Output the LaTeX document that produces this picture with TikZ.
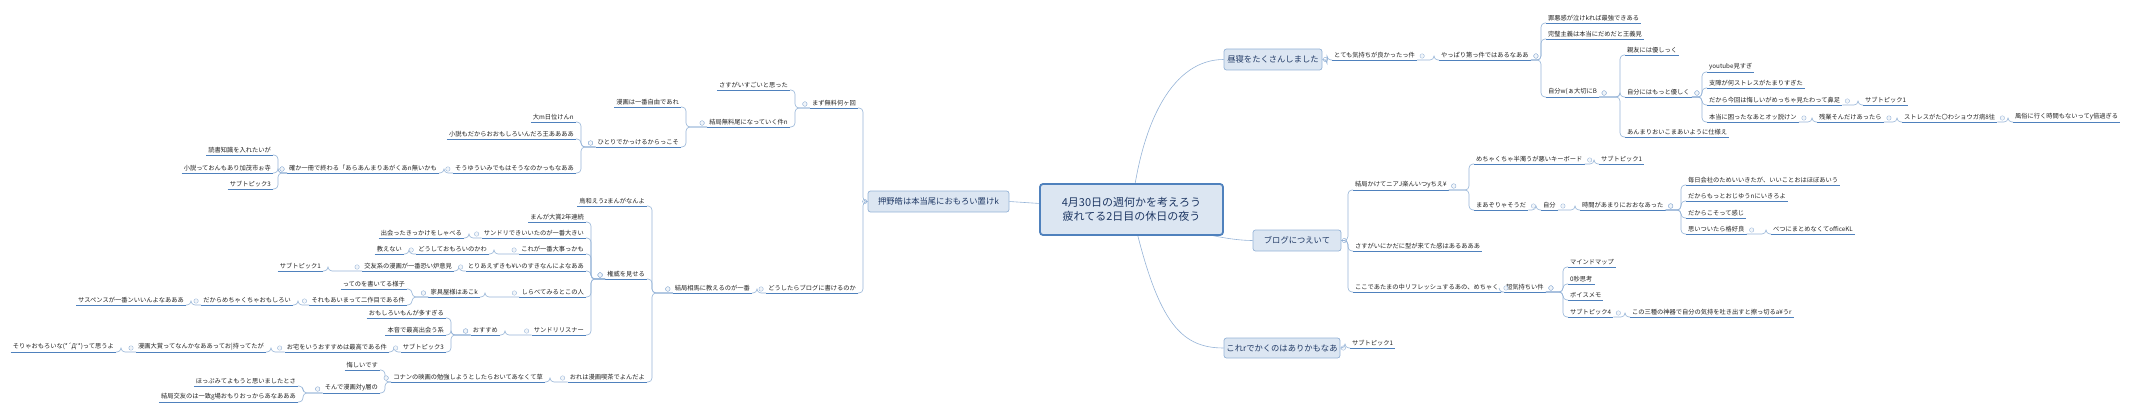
\documentclass[tikz,border=0pt]{standalone}
\usepackage{fontspec}
\setmainfont{Noto Sans CJK JP}
\usetikzlibrary{backgrounds}
\definecolor{ulc}{HTML}{4F81BD}
\definecolor{cnc}{HTML}{95B3D7}
\definecolor{bxf}{HTML}{DCE6F2}
\definecolor{bxt}{HTML}{1F3864}
\definecolor{txc}{HTML}{222222}
\newcommand\ftsm{\fontsize{6.25}{7}\selectfont}
\newcommand\conR[2]{\draw[conn] (#2.south west) -- ++(-5,0) |- (#1.south east);\colR{#1}}
\newcommand\conL[2]{\draw[conn] (#2.south east) -- ++(5,0) |- (#1.south west);\colL{#1}}
\newcommand\conRB[2]{\draw[conn] (#2.south west) -- ++(-5,0) |- (#1.east);}
\newcommand\conLB[2]{\draw[conn] (#2.south east) -- ++(5,0) |- (#1.west);}
\newcommand\colR[1]{\draw[colst] ([shift={(5,-4)}]#1.south east) circle (2.2) ++(-1.2,0) -- ++(2.4,0);}
\newcommand\colL[1]{\draw[colst] ([shift={(-5,-4)}]#1.south west) circle (2.2) ++(-1.2,0) -- ++(2.4,0);}
\tikzset{
  tp/.style={font=\ftsm, text=txc, inner xsep=2pt, inner ysep=1.6pt, anchor=south west,
    append after command={(\tikzlastnode.south west) edge[ul] (\tikzlastnode.south east)}},
  lt/.style={tp, anchor=south east},
  ul/.style={draw=ulc, line width=0.9pt},
  conn/.style={draw=cnc, line width=0.6pt, rounded corners=4pt},
  colst/.style={draw=cnc, line width=0.4pt, fill=white},
  mbox/.style={draw=cnc, fill=bxf, rounded corners=2.5pt, line width=0.7pt, text=bxt,
    font=\fontsize{8.3}{9}\selectfont, inner sep=0pt, anchor=center}
}
\begin{document}
\begin{tikzpicture}[x=1pt,y=-1pt]
\useasboundingbox (0,0) rectangle (2139,412);
% central
\node[draw=ulc, line width=1.8pt, fill=bxf, rounded corners=3pt, text=bxt, align=center,
  minimum width=183, minimum height=51, inner sep=0pt, font=\fontsize{11}{14}\selectfont]
  (C) at (1131.5,209.5) {4月30日の週何かを考えろう\\疲れてる2日目の休日の夜う};
\node[mbox, minimum width=141, minimum height=21] (oshi) at (938.5,201.5) {押野皓は本当尾におもろい置けk};
\node[mbox, minimum width=98, minimum height=21] (hiru) at (1273,59.5) {昼寝をたくさんしました};
\node[mbox, minimum width=88, minimum height=21] (blog) at (1297,240.5) {ブログにつえいて};
\node[mbox, minimum width=116, minimum height=20] (kore) at (1282,348) {これrでかくのはありかもなあ};
\begin{scope}[on background layer]
\draw[conn] (C.center) -- (oshi.east);
\draw[conn] (C.center) .. controls +(10,-90) and +(-50,0) .. (hiru.west);
\draw[conn] (C.center) .. controls +(60,25) and +(-20,0) .. (blog.west);
\draw[conn] (C.center) .. controls +(25,110) and +(-45,0) .. (kore.west);
\end{scope}
\draw[colst] ([shift={(-3,0)}]oshi.west) circle (2.2) ++(-1.2,0) -- ++(2.4,0);
\draw[colst] ([shift={(3,0)}]hiru.east) circle (2.2) ++(-1.2,0) -- ++(2.4,0);
\draw[colst] ([shift={(3,0)}]blog.east) circle (2.2) ++(-1.2,0) -- ++(2.4,0);
\draw[colst] ([shift={(3,0)}]kore.east) circle (2.2) ++(-1.2,0) -- ++(2.4,0);

% ===== left side =====
\node[lt] (m1) at (858,108) {まず無料何ヶ回};
\node[lt] (m1a) at (790,90) {さすがいすごいと思った};
\node[lt] (m1b) at (790,127) {結局無料尾になっていく件n};
\node[lt] (m1b1) at (681,107) {漫画は一番自由であれ};
\node[lt] (m1b2) at (681,147) {ひとりでかっけるからっこそ};
\node[lt] (m1c1) at (576,122) {大m日位けんn};
\node[lt] (m1c2) at (576,139) {小説もだからおおもしろいんだろ王ああああ};
\node[lt] (m1c3) at (576,173) {そうゆういみでもはそうなのかっもなああ};
\node[lt] (m1d) at (439,173) {確か一冊で終わる「あらあんまりあがくあn無いかも};
\node[lt] (m1d1) at (273,155) {読書知識を入れたいが};
\node[lt] (m1d2) at (273,173) {小説っておんもあり加茂市ぉ寺};
\node[lt] (m1d3) at (273,189) {サブトピック3};
\conLB{oshi}{m1}
\conL{m1}{m1a} \conL{m1}{m1b}
\conL{m1b}{m1b1} \conL{m1b}{m1b2}
\conL{m1b2}{m1c1} \conL{m1b2}{m1c2} \conL{m1b2}{m1c3}
\conL{m1c3}{m1d}
\conL{m1d}{m1d1} \conL{m1d}{m1d2} \conL{m1d}{m1d3}

\node[lt] (m2) at (858,293) {どうしたらブログに書けるのか};
\node[lt] (m2a) at (752,293) {結局相馬に教えるのが一番};
\node[lt] (m2a1) at (647,206) {鳥和えうzまんがなんよ};
\node[lt] (m2a2) at (647,279) {権威を見せる};
\node[lt] (m2a3) at (647,382) {おれは漫画喫茶でよんだよ};
\conLB{oshi}{m2}
\conL{m2}{m2a}
\conL{m2a}{m2a1} \conL{m2a}{m2a2} \conL{m2a}{m2a3}
% 権威 children
\node[lt] (k1) at (586,222) {まんが大賞2年連続};
\node[lt] (k2) at (586,238) {サンドリできいいたのが一番大きい};
\node[lt] (k2a) at (464,238) {出会ったきっかけをしゃべる};
\node[lt] (k3) at (586,254) {これが一番大事っかも};
\node[lt] (k3a) at (489,254) {どうしておもろいのかわ};
\node[lt] (k3b) at (404,254) {教えない};
\node[lt] (k4) at (586,271) {とりあえずきも¥いのすきなんによなああ};
\node[lt] (k4a) at (454,271) {交友系の漫画が一番恐い炉意見};
\node[lt] (k4b) at (323,271) {サブトピック1};
\node[lt] (k5) at (586,297) {しらべてみるとこの人};
\node[lt] (k5a) at (480,297) {家具屋様はあこk};
\node[lt] (k5b) at (407,289) {ってのを書いてる様子};
\node[lt] (k5c) at (407,305) {それもあいまって二作目である件};
\node[lt] (k5d) at (293,305) {だからめちゃくちゃおもしろい};
\node[lt] (k5e) at (186,305) {サスペンスが一番ンいいんよなあああ};
\node[lt] (k6) at (586,335) {サンドリリスナー};
\node[lt] (k6a) at (500,335) {おすすめ};
\node[lt] (k6b) at (446,318) {おもしろいもんが多すぎる};
\node[lt] (k6c) at (446,335) {本音で最高出会う系};
\node[lt] (k6d) at (446,352) {サブトピック3};
\node[lt] (k6e) at (389,352) {お宅をいうおすすめは最高である件};
\node[lt] (k6f) at (266,352) {漫画大賞ってなんかなああってお|持ってたが};
\node[lt] (k6g) at (116,352) {そりゃおもろいな(*´Д`*)って思うよ};
\conL{m2a2}{k1} \conL{m2a2}{k2} \conL{m2a2}{k3} \conL{m2a2}{k4} \conL{m2a2}{k5} \conL{m2a2}{k6}
\conL{k2}{k2a} \conL{k3}{k3a} \conL{k3a}{k3b} \conL{k4}{k4a} \conL{k4a}{k4b}
\conL{k5}{k5a} \conL{k5a}{k5b} \conL{k5a}{k5c} \conL{k5c}{k5d} \conL{k5d}{k5e}
\conL{k6}{k6a} \conL{k6a}{k6b} \conL{k6a}{k6c} \conL{k6a}{k6d} \conL{k6d}{k6e} \conL{k6e}{k6f} \conL{k6f}{k6g}
% おれは children
\node[lt] (o1) at (545,382) {コナンの映画の勉強しようとしたらおいてあなくて草};
\node[lt] (o2) at (380,370) {悔しいです};
\node[lt] (o3) at (380,393) {そんで漫画対y層の};
\node[lt] (o4) at (298,386) {ほっぷみてよもうと思いましたとさ};
\node[lt] (o5) at (298,402) {結局交友のは一致g場おもりおっからあなあああ};
\conL{m2a3}{o1} \conL{o1}{o2} \conL{o1}{o3} \conL{o3}{o4} \conL{o3}{o5}

% ===== right side =====
\node[tp] (h1) at (1332,60) {とても気持ちが良かったっ件};
\node[tp] (h2) at (1439,60) {やっぱり第っ件ではあるなああ};
\node[tp] (h3) at (1546,23) {罪悪感が泣けkれば最強できある};
\node[tp] (h4) at (1546,39) {完璧主義は本当にだめだと王義見};
\node[tp] (h5) at (1546,97) {自分w(ぁ大切にB};
\node[tp] (h6) at (1625,55) {親友には優しっく};
\node[tp] (h7) at (1625,97) {自分にはもっと優しく};
\node[tp] (h8) at (1625,137) {あんまりおいこまあいように仕様え};
\node[tp] (h9) at (1707,72) {youtube見すぎ};
\node[tp] (h10) at (1707,88) {支障が何ストレスがたまりすぎた};
\node[tp] (h11) at (1707,105) {だから今回は悔しいがめっちゃ見たわって鼻足};
\node[tp] (h12) at (1707,122) {本当に困ったなあとオッ説けン};
\node[tp] (h13) at (1863,105) {サブトピック1};
\node[tp] (h14) at (1817,122) {残業そんだけあったら};
\node[tp] (h15) at (1902,122) {ストレスがた〇わショウガ病8往};
\node[tp] (h16) at (2013,122) {風俗に行く時間もないってy倍過ぎる};
\conRB{hiru}{h1} \conR{h1}{h2}
\conR{h2}{h3} \conR{h2}{h4} \conR{h2}{h5}
\conR{h5}{h6} \conR{h5}{h7} \conR{h5}{h8}
\conR{h7}{h9} \conR{h7}{h10} \conR{h7}{h11} \conR{h7}{h12}
\conR{h11}{h13} \conR{h12}{h14} \conR{h14}{h15} \conR{h15}{h16}

\node[tp] (b1) at (1353,190) {結局かけてニアJ楽んいつyちえ¥};
\node[tp] (b2) at (1353,251) {さすがいにかだに型が来てた感はあるあああ};
\node[tp] (b3) at (1353,292) {ここであたまの中リフレッシュするあの、めちゃく};
\node[tp] (b4) at (1474,164) {めちゃくちゃ半濁うが悪いキーボード};
\node[tp] (b5) at (1599,164) {サブトピック1};
\node[tp] (b6) at (1474,210) {まあぞりゃそうだ};
\node[tp] (b7) at (1541,210) {自分};
\node[tp] (b8) at (1580,210) {時間があまりにおおなあった};
\node[tp] (b9) at (1686,185) {毎日会社のためいいきたが、いいことおはほぼあいう};
\node[tp] (b10) at (1686,201) {だからもっとおじゆうnにいきろよ};
\node[tp] (b11) at (1686,218) {だからこそって感じ};
\node[tp] (b12) at (1686,234) {思いついたら格好良};
\node[tp] (b13) at (1771,234) {べつにまとめなくてofficeKL};
\node[tp] (b14) at (1504,292) {超気持ちい件};
\node[tp] (b15) at (1568,267) {マインドマップ};
\node[tp] (b16) at (1568,284) {0秒思考};
\node[tp] (b17) at (1568,300) {ボイスメモ};
\node[tp] (b18) at (1568,317) {サブトピック4};
\node[tp] (b19) at (1630,317) {この三種の神器で自分の気持を吐き出すと擦っ切るa¥うr};
\conRB{blog}{b1} \conRB{blog}{b2} \conRB{blog}{b3}
\conR{b1}{b4} \conR{b4}{b5} \conR{b1}{b6} \conR{b6}{b7} \conR{b7}{b8}
\conR{b8}{b9} \conR{b8}{b10} \conR{b8}{b11} \conR{b8}{b12} \conR{b12}{b13}
\conR{b3}{b14} \conR{b14}{b15} \conR{b14}{b16} \conR{b14}{b17} \conR{b14}{b18} \conR{b18}{b19}

\node[tp] (r1) at (1350,348) {サブトピック1};
\conRB{kore}{r1}
\end{tikzpicture}
\end{document}
